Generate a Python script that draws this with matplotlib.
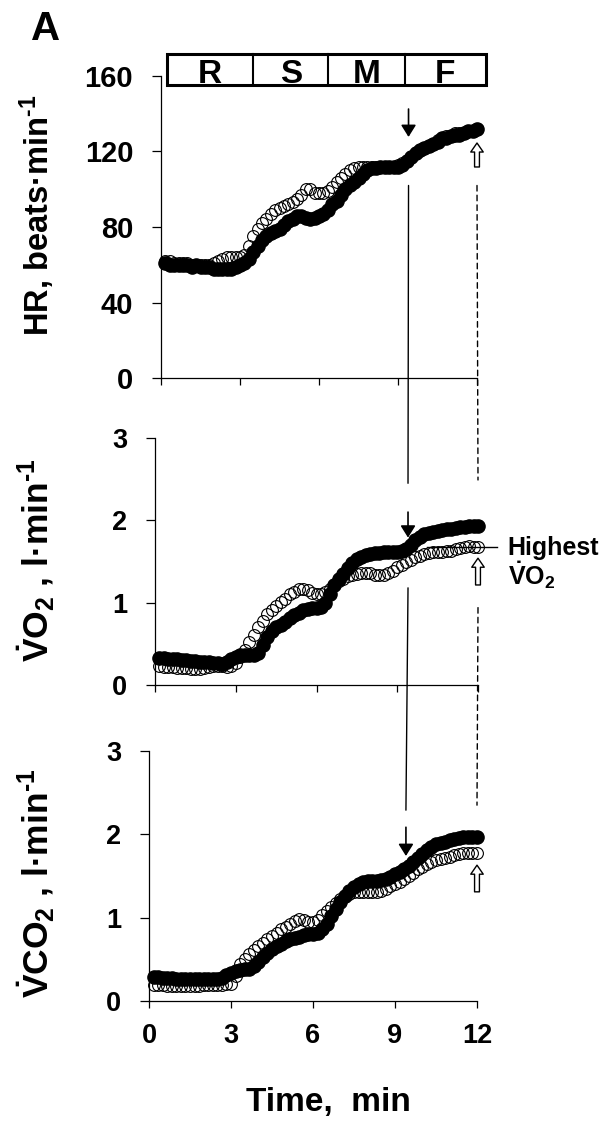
import numpy as np
import matplotlib
matplotlib.use('Agg')
import matplotlib.pyplot as plt
from matplotlib.patches import Rectangle, ConnectionPatch

plt.rcParams['font.family'] = ['Liberation Sans', 'DejaVu Sans']
plt.rcParams['font.weight'] = 'bold'
plt.rcParams['mathtext.fontset'] = 'custom'
plt.rcParams['mathtext.rm'] = 'Liberation Sans:bold'
plt.rcParams['mathtext.it'] = 'Liberation Sans:bold'
plt.rcParams['mathtext.bf'] = 'Liberation Sans:bold'
plt.rcParams['mathtext.default'] = 'rm'

# 10-s samples, min
time_min = np.arange(1, 73) / 6.0

# heart rate, beats/min (one row = one minute)
hr_filled = [61, 60, 60, 60, 60, 60,
             59, 60, 59, 59, 59, 58,
             58, 58, 58, 58, 59, 60,
             61, 63, 67, 70, 73, 75,
             77, 78, 79, 81, 83, 84,
             86, 86, 85, 84, 85, 86,
             87, 89, 92, 94, 97, 100,
             102, 104, 106, 108, 110, 111,
             111, 112, 112, 112, 112, 112,
             113, 115, 117, 119, 121, 122,
             123, 124, 125, 127, 127, 128,
             129, 129, 130, 131, 131, 132]
hr_open = [62, 62, 61, 61, 61, 61,
           60, 60, 60, 60, 60, 61,
           62, 63, 64, 64, 64, 64,
           65, 70, 75, 79, 82, 84,
           87, 89, 90, 91, 92, 93,
           95, 97, 100, 100, 98, 98,
           98, 99, 101, 104, 106, 108,
           110, 111, 112, 112, 112, 112,
           112, 112, 112, 112, 112, 113,
           114, 115, 117, 119, 121, 122,
           123, 124, 126, 127, 128, 128,
           130, 130, 130, 131, 131, 132]

# VO2, l/min
vo2_filled = [0.33, 0.33, 0.32, 0.32, 0.31, 0.30,
              0.30, 0.29, 0.29, 0.28, 0.28, 0.28,
              0.27, 0.27, 0.26, 0.28, 0.31, 0.34,
              0.36, 0.37, 0.37, 0.36, 0.39, 0.48,
              0.58, 0.66, 0.70, 0.73, 0.77, 0.81,
              0.85, 0.88, 0.91, 0.92, 0.93, 0.94,
              0.95, 1.00, 1.10, 1.21, 1.29, 1.35,
              1.42, 1.48, 1.53, 1.56, 1.58, 1.59,
              1.60, 1.60, 1.61, 1.61, 1.62, 1.62,
              1.63, 1.65, 1.70, 1.76, 1.80, 1.83,
              1.85, 1.86, 1.87, 1.88, 1.89, 1.90,
              1.91, 1.92, 1.92, 1.93, 1.93, 1.93]
vo2_open = [0.23, 0.22, 0.22, 0.22, 0.21, 0.21,
            0.21, 0.20, 0.19, 0.20, 0.21, 0.22,
            0.23, 0.23, 0.23, 0.22, 0.23, 0.27,
            0.34, 0.43, 0.52, 0.61, 0.70, 0.78,
            0.86, 0.91, 0.96, 1.01, 1.05, 1.10,
            1.13, 1.16, 1.17, 1.15, 1.12, 1.10,
            1.11, 1.13, 1.17, 1.22, 1.26, 1.29,
            1.32, 1.34, 1.35, 1.36, 1.36, 1.36,
            1.34, 1.33, 1.33, 1.36, 1.39, 1.43,
            1.46, 1.49, 1.52, 1.55, 1.57, 1.59,
            1.60, 1.61, 1.62, 1.62, 1.63, 1.63,
            1.65, 1.67, 1.68, 1.69, 1.68, 1.68]

# VCO2, l/min
vco2_filled = [0.29, 0.29, 0.28, 0.28, 0.28, 0.27,
               0.27, 0.27, 0.27, 0.26, 0.26, 0.26,
               0.26, 0.26, 0.26, 0.28, 0.31, 0.34,
               0.36, 0.37, 0.38, 0.39, 0.42, 0.47,
               0.53, 0.58, 0.62, 0.66, 0.69, 0.72,
               0.74, 0.76, 0.77, 0.79, 0.80, 0.81,
               0.82, 0.86, 0.93, 1.02, 1.11, 1.19,
               1.26, 1.32, 1.37, 1.40, 1.43, 1.44,
               1.44, 1.44, 1.45, 1.47, 1.49, 1.52,
               1.55, 1.58, 1.62, 1.67, 1.72, 1.77,
               1.81, 1.85, 1.88, 1.90, 1.91, 1.93,
               1.94, 1.96, 1.97, 1.97, 1.97, 1.97]
vco2_open = [0.19, 0.19, 0.19, 0.18, 0.18, 0.18,
             0.18, 0.18, 0.18, 0.18, 0.18, 0.19,
             0.19, 0.19, 0.19, 0.19, 0.20, 0.21,
             0.30, 0.44, 0.50, 0.56, 0.61, 0.66,
             0.70, 0.74, 0.78, 0.82, 0.86, 0.89,
             0.93, 0.96, 0.99, 0.97, 0.95, 0.95,
             0.97, 1.03, 1.08, 1.13, 1.18, 1.22,
             1.26, 1.29, 1.31, 1.31, 1.31, 1.31,
             1.31, 1.31, 1.32, 1.35, 1.38, 1.40,
             1.43, 1.46, 1.50, 1.54, 1.58, 1.61,
             1.64, 1.67, 1.69, 1.71, 1.72, 1.73,
             1.75, 1.77, 1.78, 1.78, 1.78, 1.78]

phase_names = ['R', 'S', 'M', 'F']
phase_edges = [0.22, 3.5, 6.35, 9.25, 12.35]
x_ticks = [0, 3, 6, 9, 12]
t_event = 9.4
t_end = 12

W, H = 609, 1126
fig = plt.figure(figsize=(W / 100, H / 100), dpi=100)


def px_axes(left, right, top, bottom):
    return fig.add_axes([left / W, 1 - bottom / H, (right - left) / W, (bottom - top) / H])


ax_hr = px_axes(161, 477, 76, 378)
ax_vo2 = px_axes(155, 478, 438, 685)
ax_vco2 = px_axes(149, 477, 751, 1001)

panels = [(ax_hr, hr_filled, hr_open, (0, 160), [0, 40, 80, 120, 160], 21),
          (ax_vo2, vo2_filled, vo2_open, (0, 3), [0, 1, 2, 3], 19.5),
          (ax_vco2, vco2_filled, vco2_open, (0, 3), [0, 1, 2, 3], 19.5)]

for ax, filled, hollow, ylim, yticks, fs in panels:
    ax.plot(time_min, filled, 'o', ms=9.5, color='k', zorder=3, clip_on=False)
    ax.plot(time_min, hollow, 'o', ms=8.5, mfc='none', mec='k', mew=0.8,
            zorder=4, clip_on=False)
    ax.set_xlim(0, 12)
    ax.set_ylim(*ylim)
    ax.set_xticks(x_ticks)
    ax.set_yticks(yticks)
    for s in ['top', 'right']:
        ax.spines[s].set_visible(False)
    for s in ['left', 'bottom']:
        ax.spines[s].set_linewidth(0.9)
    ax.tick_params(axis='x', direction='out', length=5, width=0.9, pad=11, labelsize=19.5)
    ax.tick_params(axis='y', direction='out', length=6.5, width=0.9, pad=13.5, labelsize=fs)
    ax.patch.set_alpha(0)

ax_hr.tick_params(axis='x', labelbottom=False)
ax_vo2.tick_params(axis='x', labelbottom=False)

# phase box
ax_hr.add_patch(Rectangle((phase_edges[0], 155.2), phase_edges[-1] - phase_edges[0], 16.5,
                          fill=False, lw=2.2, ec='k', clip_on=False, zorder=5))
for x in phase_edges[1:-1]:
    ax_hr.plot([x, x], [155.2, 171.7], color='k', lw=1.5, clip_on=False, zorder=5)
for name, a, b in zip(phase_names, phase_edges[:-1], phase_edges[1:]):
    ax_hr.text((a + b) / 2, 156.1, name, ha='center', va='baseline', fontsize=24,
               fontweight='bold')

# down arrows (solid)
down = dict(arrowstyle='-|>,head_length=0.48,head_width=0.3', color='k', lw=1.2,
            mutation_scale=15, shrinkA=0, shrinkB=0)
ax_hr.annotate('', xy=(t_event, 127.7), xytext=(t_event, 142.5), arrowprops=down,
               annotation_clip=False)
ax_vo2.annotate('', xy=(t_event, 1.79), xytext=(t_event, 2.10), arrowprops=down,
                annotation_clip=False)
ax_vco2.annotate('', xy=(t_event, 1.74), xytext=(t_event, 2.085), arrowprops=down,
                 annotation_clip=False)

# up arrows (hollow)
up = dict(arrowstyle='simple,head_length=0.65,head_width=0.9,tail_width=0.35',
          fc='white', ec='k', lw=1, mutation_scale=10, shrinkA=0, shrinkB=0)
ax_hr.annotate('', xy=(t_end, 124.5), xytext=(t_end, 111.8), arrowprops=up,
               annotation_clip=False)
ax_vo2.annotate('', xy=(t_end, 1.54), xytext=(t_end, 1.215), arrowprops=up,
                annotation_clip=False)
ax_vco2.annotate('', xy=(t_end, 1.63), xytext=(t_end, 1.31), arrowprops=up,
                 annotation_clip=False)

# connecting lines between panels
for (a1, y1, a2, y2) in [(ax_hr, 102, ax_vo2, 2.45), (ax_vo2, 1.18, ax_vco2, 2.29)]:
    fig.add_artist(ConnectionPatch(xyA=(t_event, y1), coordsA=a1.transData,
                                   xyB=(t_event, y2), coordsB=a2.transData,
                                   color='k', lw=1))
for (a1, y1, a2, y2) in [(ax_hr, 102, ax_vo2, 2.49), (ax_vo2, 0.94, ax_vco2, 2.35)]:
    fig.add_artist(ConnectionPatch(xyA=(t_end, y1), coordsA=a1.transData,
                                   xyB=(t_end, y2), coordsB=a2.transData,
                                   color='k', lw=1, linestyle=(0, (4, 3))))

# highest VO2 label
ax_vo2.plot([10.1, 12.7], [1.68, 1.68], color='k', lw=1, clip_on=False, zorder=2)
ax_vo2.text(13.1, 1.58, 'Highest', fontsize=18, ha='left', va='baseline')
ax_vo2.text(13.1, 1.215, r'$\dot{V}$O$_2$', fontsize=18, ha='left', va='baseline')

# labels
sup = r'$^{\text{-1}}$'
fig.text(37 / W, 1 - 215 / H, 'HR, beats·min' + sup, rotation=90,
         ha='center', va='center', fontsize=23.5)
fig.text(36 / W, 1 - 560 / H, r'$\dot{V}$O$_2$ , l·min' + sup, rotation=90,
         ha='center', va='center', fontsize=25.5)
fig.text(36 / W, 1 - 883 / H, r'$\dot{V}$CO$_2$ , l·min' + sup, rotation=90,
         ha='center', va='center', fontsize=25.5)
fig.text(328 / W, 1 - 1103 / H, 'Time,  min', ha='center', va='center', fontsize=24)
fig.text(31 / W, 1 - 40 / H, 'A', fontsize=29, va='baseline')

fig.savefig('out.png', dpi=100)
